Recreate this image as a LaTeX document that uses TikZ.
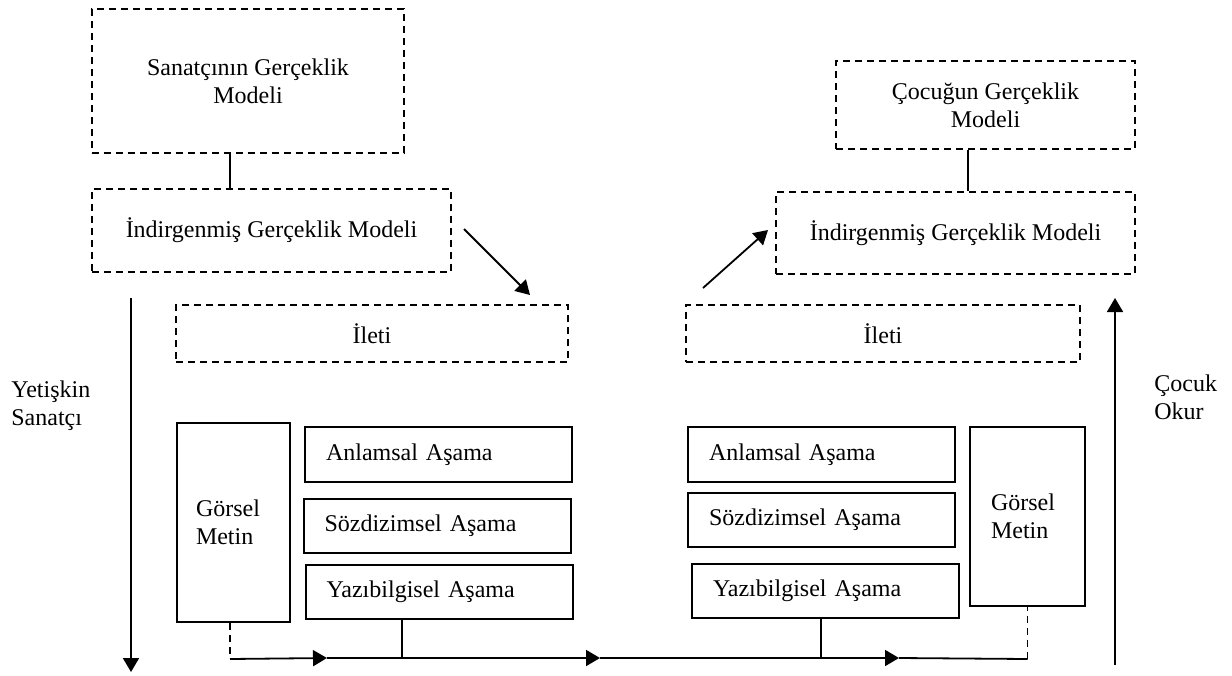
\documentclass[tikz,border=0pt]{standalone}
\usepackage{fontspec}
\setmainfont{Liberation Serif}
\usetikzlibrary{arrows.meta,positioning}

\tikzset{
  dbox/.style={draw, dash pattern=on 3.5pt off 2.5pt, line width=1pt, align=center, inner sep=0pt},
  sbox/.style={draw, line width=1pt, align=left, inner ysep=0pt},
  conn/.style={line width=0.9pt},
  tip/.style={conn, -{Triangle[length=7pt,width=8pt]}},
}

\begin{document}
\begin{tikzpicture}[x=0.5pt, y=-0.5pt, font=\fontsize{12pt}{14pt}\selectfont]
\useasboundingbox (0,0) rectangle (1232,675);

% adult side
\node[dbox, minimum width=156pt, minimum height=72pt] (sm) at (248,81) {Sanatçının Gerçeklik\\Modeli};
\node[dbox, minimum width=179.5pt, minimum height=41.5pt] (si) at (271.5,230.5) {İndirgenmiş Gerçeklik Modeli};
\node[dbox, minimum width=196pt, minimum height=28.5pt] (il) at (372,333.5) {İleti};
\node[sbox, inner xsep=9.5pt, text width=37.5pt, minimum height=99.5pt] (gl) at (233.5,522.5) {Görsel\\Metin};
\node[sbox, inner xsep=10.5pt, text width=112.5pt, minimum height=27.5pt] (al) at (438.5,454.5) {Anlamsal Aşama};
\node[sbox, inner xsep=10.5pt, text width=112.5pt, minimum height=27pt] (sl) at (437,526) {Sözdizimsel Aşama};
\node[sbox, inner xsep=10.5pt, text width=112.5pt, minimum height=27pt] (yl) at (439,592) {Yazıbilgisel Aşama};
\node[align=left, anchor=west, inner sep=0pt] (ya) at (11,406) {Yetişkin\\Sanatçı};

% child side
\node[dbox, minimum width=149.5pt, minimum height=44pt] (cm) at (985.5,105) {Çocuğun Gerçeklik\\Modeli};
\node[dbox, minimum width=179.5pt, minimum height=41pt] (ci) at (955.5,233) {İndirgenmiş Gerçeklik Modeli};
\node[dbox, minimum width=197pt, minimum height=28.5pt] (ir) at (883,333.5) {İleti};
\node[sbox, inner xsep=10.5pt, text width=36.5pt, minimum height=89.5pt] (gr) at (1027.5,516.5) {Görsel\\Metin};
\node[sbox, inner xsep=10.5pt, text width=112.5pt, minimum height=27.5pt] (ar) at (821.5,454.5) {Anlamsal Aşama};
\node[sbox, inner xsep=10.5pt, text width=112.5pt, minimum height=27pt] (sr) at (821.5,520) {Sözdizimsel Aşama};
\node[sbox, inner xsep=10.5pt, text width=112.5pt, minimum height=27pt] (yr) at (825.5,591) {Yazıbilgisel Aşama};
\node[align=left, anchor=west, inner sep=0pt] (co) at (1154,397) {Çocuk\\Okur};

% helper points
\coordinate (x1) at (230,0);
\coordinate (x2) at (968,0);
\coordinate (x3) at (402,0);
\coordinate (x4) at (821,0);
\coordinate (a1) at (464,229);
\coordinate (a2) at (530,295);
\coordinate (b1) at (703,288);
\coordinate (b2) at (768,230);
\coordinate (l1) at (131,298);
\coordinate (l2) at (131,672);
\coordinate (r1) at (1115,665);
\coordinate (r2) at (1115,298);
\path ([xshift=-1.75pt]gl.south) ++(0,36) coordinate (g1);
\path (gr.south) ++(0,52) coordinate (g2);
\coordinate (t1) at (327,658);
\coordinate (t2) at (600,658);
\coordinate (t3) at (899,658);

\draw[conn] (sm.south -| x1) -- (si.north -| x1);
\draw[conn] (cm.south -| x2) -- (ci.north -| x2);
\draw[tip] (a1) -- (a2);
\draw[tip] (b1) -- (b2);
\draw[tip] (l1) -- (l2);
\draw[tip] (r1) -- (r2);

% bottom line
\draw[conn, dash pattern=on 3.5pt off 2.5pt] ([xshift=-1.75pt]gl.south) -- (g1);
\draw[tip] (g1) -- (t1);
\draw[tip] (t1) -- (t2);
\draw[tip] (t2) -- (t3);
\draw[conn] (t3) -- (g2);
\draw[conn, dash pattern=on 3.5pt off 2.5pt] (g2) -- (gr.south);
\draw[conn] (yl.south -| x3) -- (g1 -| x3);
\draw[conn] (yr.south -| x4) -- (g1 -| x4);
\end{tikzpicture}
\end{document}
